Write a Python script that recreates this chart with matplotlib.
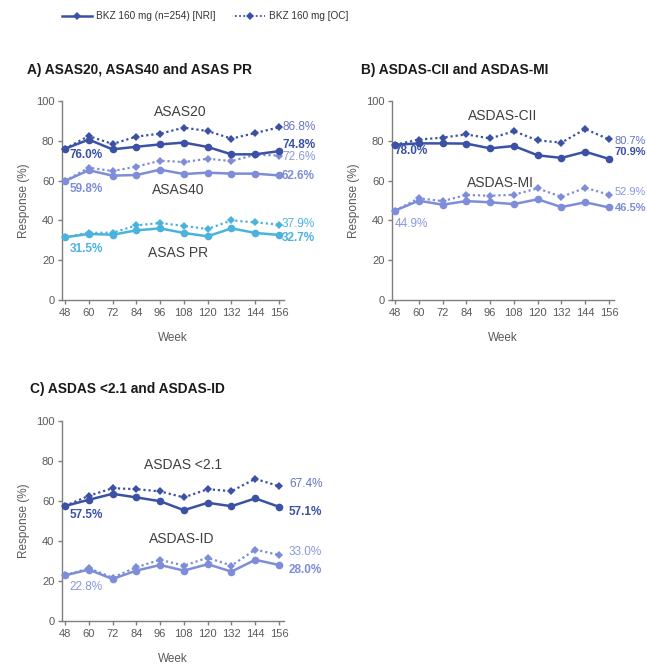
import matplotlib
matplotlib.use("Agg")
import matplotlib.pyplot as plt
from matplotlib.lines import Line2D

plt.rcParams['font.family'] = ['Liberation Sans', 'DejaVu Sans']

weeks = [48, 60, 72, 84, 96, 108, 120, 132, 144, 156]
week_labels = ["48", "60", "72", "84", "96", "108", "120", "132", "144", "156"]

# Panel A
asas20_nri = [76.0, 80.6, 75.7, 77.0, 78.2, 79.1, 76.9, 73.2, 73.2, 74.8]
asas20_oc = [76.0, 82.4, 78.4, 82.1, 83.6, 86.6, 84.9, 81.1, 83.9, 86.8]
asas40_nri = [59.8, 65.2, 62.5, 62.8, 65.5, 63.3, 64.0, 63.5, 63.5, 62.6]
asas40_oc = [59.8, 66.5, 64.8, 67.0, 70.0, 69.3, 71.0, 69.8, 73.0, 72.6]
asaspr_nri = [31.5, 33.2, 32.8, 35.0, 36.0, 33.7, 32.0, 36.0, 33.7, 32.7]
asaspr_oc = [31.5, 33.8, 33.8, 37.5, 38.7, 37.2, 35.7, 40.0, 39.0, 37.9]

# Panel B
cii_nri = [78.0, 78.7, 78.7, 78.6, 76.2, 77.4, 72.7, 71.4, 74.5, 70.9]
cii_oc = [78.0, 80.6, 81.6, 83.2, 81.2, 84.8, 80.2, 79.1, 85.9, 80.7]
mi_nri = [44.9, 49.9, 47.9, 49.7, 49.1, 48.2, 50.6, 46.7, 49.1, 46.5]
mi_oc = [44.9, 51.1, 49.7, 52.8, 52.4, 52.9, 56.1, 51.8, 56.4, 52.9]

# Panel C
lt21_nri = [57.5, 60.6, 63.6, 61.8, 59.9, 55.4, 59.1, 57.4, 61.3, 57.1]
lt21_oc = [57.5, 62.6, 66.4, 65.9, 64.8, 61.8, 65.9, 64.9, 71.1, 67.4]
id_nri = [22.8, 25.7, 21.0, 25.2, 28.0, 25.2, 28.4, 24.7, 30.6, 28.0]
id_oc = [22.8, 26.4, 21.7, 26.9, 30.6, 27.7, 31.6, 27.7, 35.7, 33.0]

legend_labels = ["BKZ 160 mg (n=254) [NRI]", "BKZ 160 mg [OC]"]

DARK = "#3A51A6"
DARK_OC_TXT = "#6674C2"
MID = "#7E8DD8"
MID_TXT = "#8A97DC"
CYAN = "#4BB2DE"
GRAY = "#595959"
TXT = "#404040"

W, H = 647, 667
fig = plt.figure(figsize=(W / 100, H / 100), dpi=100)


def ax_at(left, top, right, bottom):
    return fig.add_axes([left / W, 1 - bottom / H, (right - left) / W, (bottom - top) / H])


def style(ax):
    ax.set_xlim(46.5, 158.5)
    ax.set_ylim(0, 100)
    ax.set_xticks(weeks)
    ax.set_xticklabels(week_labels)
    ax.set_yticks([0, 20, 40, 60, 80, 100])
    for s in ["top", "right"]:
        ax.spines[s].set_visible(False)
    for s in ["left", "bottom"]:
        ax.spines[s].set_color("#7f7f7f")
        ax.spines[s].set_linewidth(1.0)
    ax.tick_params(colors="#7f7f7f", labelcolor=GRAY, labelsize=8.0, length=3, width=1, pad=2.5)
    ax.set_xlabel("Week", color=GRAY, fontsize=8.5, labelpad=10)
    ax.set_ylabel("Response (%)", color=GRAY, fontsize=8.5, labelpad=4)
    ax.patch.set_alpha(0)


def pair(ax, nri, oc, color):
    ax.plot(weeks, oc, linestyle=(0, (1, 1.3)), color=color, lw=1.6, marker="D",
            markersize=4.2, markeredgewidth=0, clip_on=False, zorder=3)
    ax.plot(weeks, nri, linestyle="-", color=color, lw=1.8, marker="o",
            markersize=5.5, markeredgewidth=0, clip_on=False, zorder=4)


def lab(ax, x, y, s, color, bold=False, ha="left", size=8.5):
    ax.text(x, y, s, color=color, fontsize=size, fontweight="bold" if bold else "normal",
            ha=ha, va="center", clip_on=False)


# Panel A
axA = ax_at(62, 101, 284, 300)
style(axA)
pair(axA, asaspr_nri, asaspr_oc, CYAN)
pair(axA, asas40_nri, asas40_oc, MID)
pair(axA, asas20_nri, asas20_oc, DARK)
lab(axA, 106, 94.6, "ASAS20", TXT, ha="center", size=10)
lab(axA, 105, 55.3, "ASAS40", TXT, ha="center", size=10)
lab(axA, 105, 23.8, "ASAS PR", TXT, ha="center", size=10)
lab(axA, 50.5, 72.9, "76.0%", DARK, bold=True)
lab(axA, 50.5, 55.6, "59.8%", MID, bold=True)
lab(axA, 50.5, 25.5, "31.5%", CYAN, bold=True)
lab(axA, 157.5, 86.8, "86.8%", DARK_OC_TXT)
lab(axA, 157.5, 77.9, "74.8%", DARK, bold=True)
lab(axA, 157.5, 71.7, "72.6%", MID_TXT)
lab(axA, 157.5, 62.5, "62.6%", MID, bold=True)
lab(axA, 157.5, 38.0, "37.9%", CYAN)
lab(axA, 157.5, 31.3, "32.7%", CYAN, bold=True)
fig.text(27 / W, 1 - 70 / H, "A) ASAS20, ASAS40 and ASAS PR", fontsize=9.9,
         fontweight="bold", color="#1a1a1a", va="center", ha="left")

# Panel B
axB = ax_at(392, 101, 614, 300)
style(axB)
pair(axB, mi_nri, mi_oc, MID)
pair(axB, cii_nri, cii_oc, DARK)
lab(axB, 102.5, 92.6, "ASDAS-CII", TXT, ha="center", size=10)
lab(axB, 101, 58.6, "ASDAS-MI", TXT, ha="center", size=10)
lab(axB, 48.0, 75.0, "78.0%", DARK, bold=True)
lab(axB, 48.0, 38.0, "44.9%", MID_TXT)
lab(axB, 159.0, 79.9, "80.7%", DARK_OC_TXT, size=8.0)
lab(axB, 159.0, 74.6, "70.9%", DARK, bold=True, size=8.0)
lab(axB, 159.0, 54.4, "52.9%", MID_TXT, size=8.0)
lab(axB, 159.0, 46.1, "46.5%", MID, bold=True, size=8.0)
fig.text(361 / W, 1 - 70 / H, "B) ASDAS-CII and ASDAS-MI", fontsize=9.9,
         fontweight="bold", color="#1a1a1a", va="center", ha="left")

# Panel C
axC = ax_at(62, 421, 284, 621)
style(axC)
pair(axC, id_nri, id_oc, MID)
pair(axC, lt21_nri, lt21_oc, DARK)
lab(axC, 107.6, 78.1, "ASDAS <2.1", TXT, ha="center", size=10)
lab(axC, 107, 41.1, "ASDAS-ID", TXT, ha="center", size=10)
lab(axC, 50.5, 52.8, "57.5%", DARK, bold=True)
lab(axC, 50.5, 17.2, "22.8%", MID_TXT)
lab(axC, 161, 68.4, "67.4%", DARK_OC_TXT)
lab(axC, 161, 54.6, "57.1%", DARK, bold=True)
lab(axC, 161, 34.7, "33.0%", MID_TXT)
lab(axC, 161, 25.5, "28.0%", MID, bold=True)
fig.text(30 / W, 1 - 389 / H, "C) ASDAS <2.1 and ASDAS-ID", fontsize=9.9,
         fontweight="bold", color="#1a1a1a", va="center", ha="left")

handles = [
    Line2D([0], [0], color=DARK, lw=1.8, marker="D", markersize=4, markeredgewidth=0),
    Line2D([0], [0], color=DARK, lw=1.3, linestyle=(0, (1, 1.3)), marker="D", markersize=4,
           markeredgewidth=0),
]
leg = fig.legend(handles, legend_labels, loc="center", bbox_to_anchor=(205 / W, 1 - 16 / H),
                 ncol=2, frameon=False, fontsize=7.2, handlelength=3.0, handletextpad=0.4,
                 columnspacing=2.0, labelcolor="#333333")

fig.savefig("out.png", dpi=100)
